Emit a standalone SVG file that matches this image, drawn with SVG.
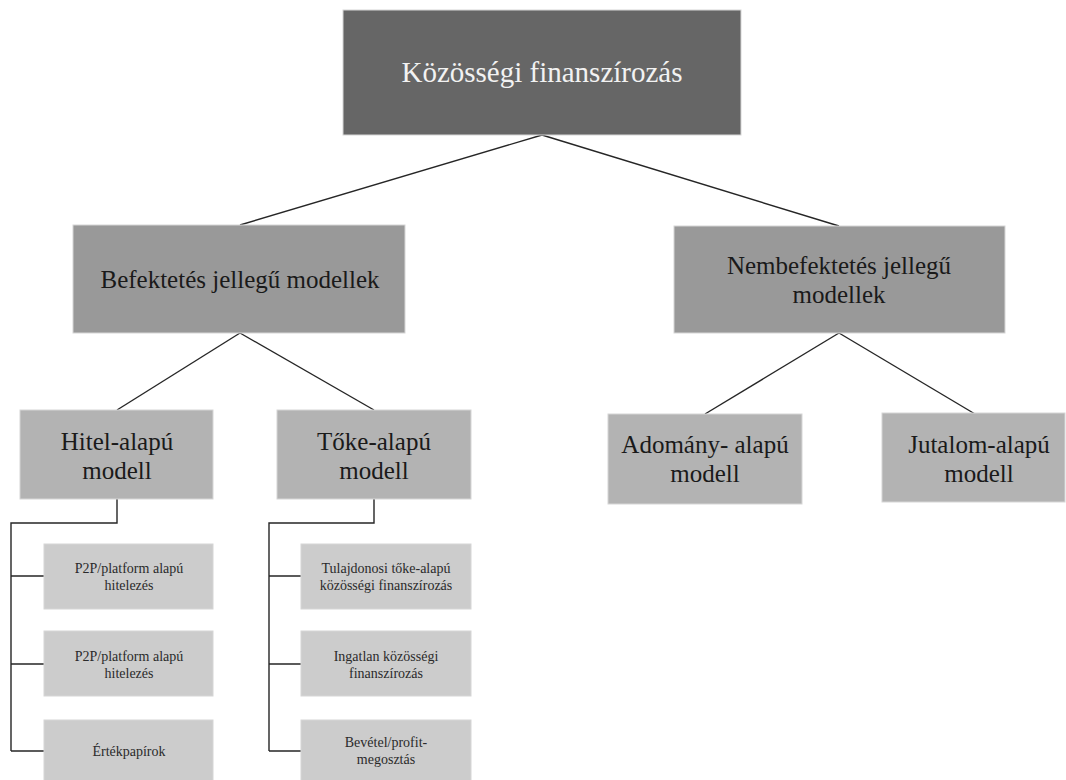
<svg xmlns="http://www.w3.org/2000/svg" width="1066" height="780" viewBox="0 0 1066 780">
  <style>
    .box { stroke: #d6d6d6; stroke-width: 1; }
    .l0 { fill: #666666; }
    .l1 { fill: #999999; }
    .l2 { fill: #b3b3b3; }
    .l3 { fill: #cccccc; }
    text { font-family: "Liberation Serif", "Times New Roman", serif; text-anchor: middle; }
    .t0 { font-size: 29px; fill: #f2f2f2; }
    .t1 { font-size: 25px; fill: #1a1a1a; }
    .t2 { font-size: 25px; fill: #1a1a1a; }
    .t3 { font-size: 14px; fill: #2a2a2a; }
    .conn { fill: none; stroke: #262626; stroke-width: 1.4; }
  </style>

  <!-- connectors -->
  <g id="connectors" class="conn">
    <path d="M542 135 L240 225"/>
    <path d="M542 135 L839 226"/>
    <path d="M240 333 L117 410"/>
    <path d="M240 333 L374 410"/>
    <path d="M839 333 L705 414"/>
    <path d="M839 333 L975 414"/>
    <path d="M117 499 V523 H11 V751"/>
    <path d="M11 576 H44 M11 664 H44 M11 751 H44"/>
    <path d="M374 499 V523 H269 V751"/>
    <path d="M269 576 H301 M269 664 H301 M269 751 H301"/>
  </g>

  <!-- root -->
  <g id="root">
    <rect class="box l0" x="343" y="10" width="398" height="125"/>
    <text class="t0" x="542" y="82">Közösségi finanszírozás</text>
  </g>

  <!-- second level -->
  <g id="befektetes">
    <rect class="box l1" x="73" y="225" width="332" height="108"/>
    <text class="t1" x="240" y="288">Befektetés jellegű modellek</text>
  </g>
  <g id="nembefektetes">
    <rect class="box l1" x="674" y="226" width="331" height="107"/>
    <text class="t1" x="839" y="274">Nembefektetés jellegű</text>
    <text class="t1" x="839" y="303">modellek</text>
  </g>

  <!-- third level -->
  <g id="hitel">
    <rect class="box l2" x="20" y="410" width="193" height="89"/>
    <text class="t2" x="117" y="450">Hitel-alapú</text>
    <text class="t2" x="117" y="479">modell</text>
  </g>
  <g id="toke">
    <rect class="box l2" x="277" y="410" width="194" height="89"/>
    <text class="t2" x="374" y="450">Tőke-alapú</text>
    <text class="t2" x="374" y="479">modell</text>
  </g>
  <g id="adomany">
    <rect class="box l2" x="608" y="414" width="194" height="90"/>
    <text class="t2" x="705" y="453">Adomány- alapú</text>
    <text class="t2" x="705" y="482">modell</text>
  </g>
  <g id="jutalom">
    <rect class="box l2" x="882" y="413" width="183" height="89"/>
    <text class="t2" x="979" y="453">Jutalom-alapú</text>
    <text class="t2" x="979" y="482">modell</text>
  </g>

  <!-- leaves under Hitel-alapú -->
  <g id="hitel-p2p-1">
    <rect class="box l3" x="44" y="544" width="169" height="65"/>
    <text class="t3" x="129" y="573">P2P/platform alapú</text>
    <text class="t3" x="129" y="590">hitelezés</text>
  </g>
  <g id="hitel-p2p-2">
    <rect class="box l3" x="44" y="631" width="169" height="65"/>
    <text class="t3" x="129" y="661">P2P/platform alapú</text>
    <text class="t3" x="129" y="678">hitelezés</text>
  </g>
  <g id="ertekpapirok">
    <rect class="box l3" x="44" y="720" width="169" height="62"/>
    <text class="t3" x="129" y="756">Értékpapírok</text>
  </g>

  <!-- leaves under Tőke-alapú -->
  <g id="tulajdonosi">
    <rect class="box l3" x="301" y="544" width="170" height="65"/>
    <text class="t3" x="386" y="573">Tulajdonosi tőke-alapú</text>
    <text class="t3" x="386" y="590">közösségi finanszírozás</text>
  </g>
  <g id="ingatlan">
    <rect class="box l3" x="301" y="631" width="170" height="65"/>
    <text class="t3" x="386" y="661">Ingatlan közösségi</text>
    <text class="t3" x="386" y="678">finanszírozás</text>
  </g>
  <g id="bevetel">
    <rect class="box l3" x="301" y="720" width="170" height="62"/>
    <text class="t3" x="386" y="747">Bevétel/profit-</text>
    <text class="t3" x="386" y="764">megosztás</text>
  </g>
</svg>
